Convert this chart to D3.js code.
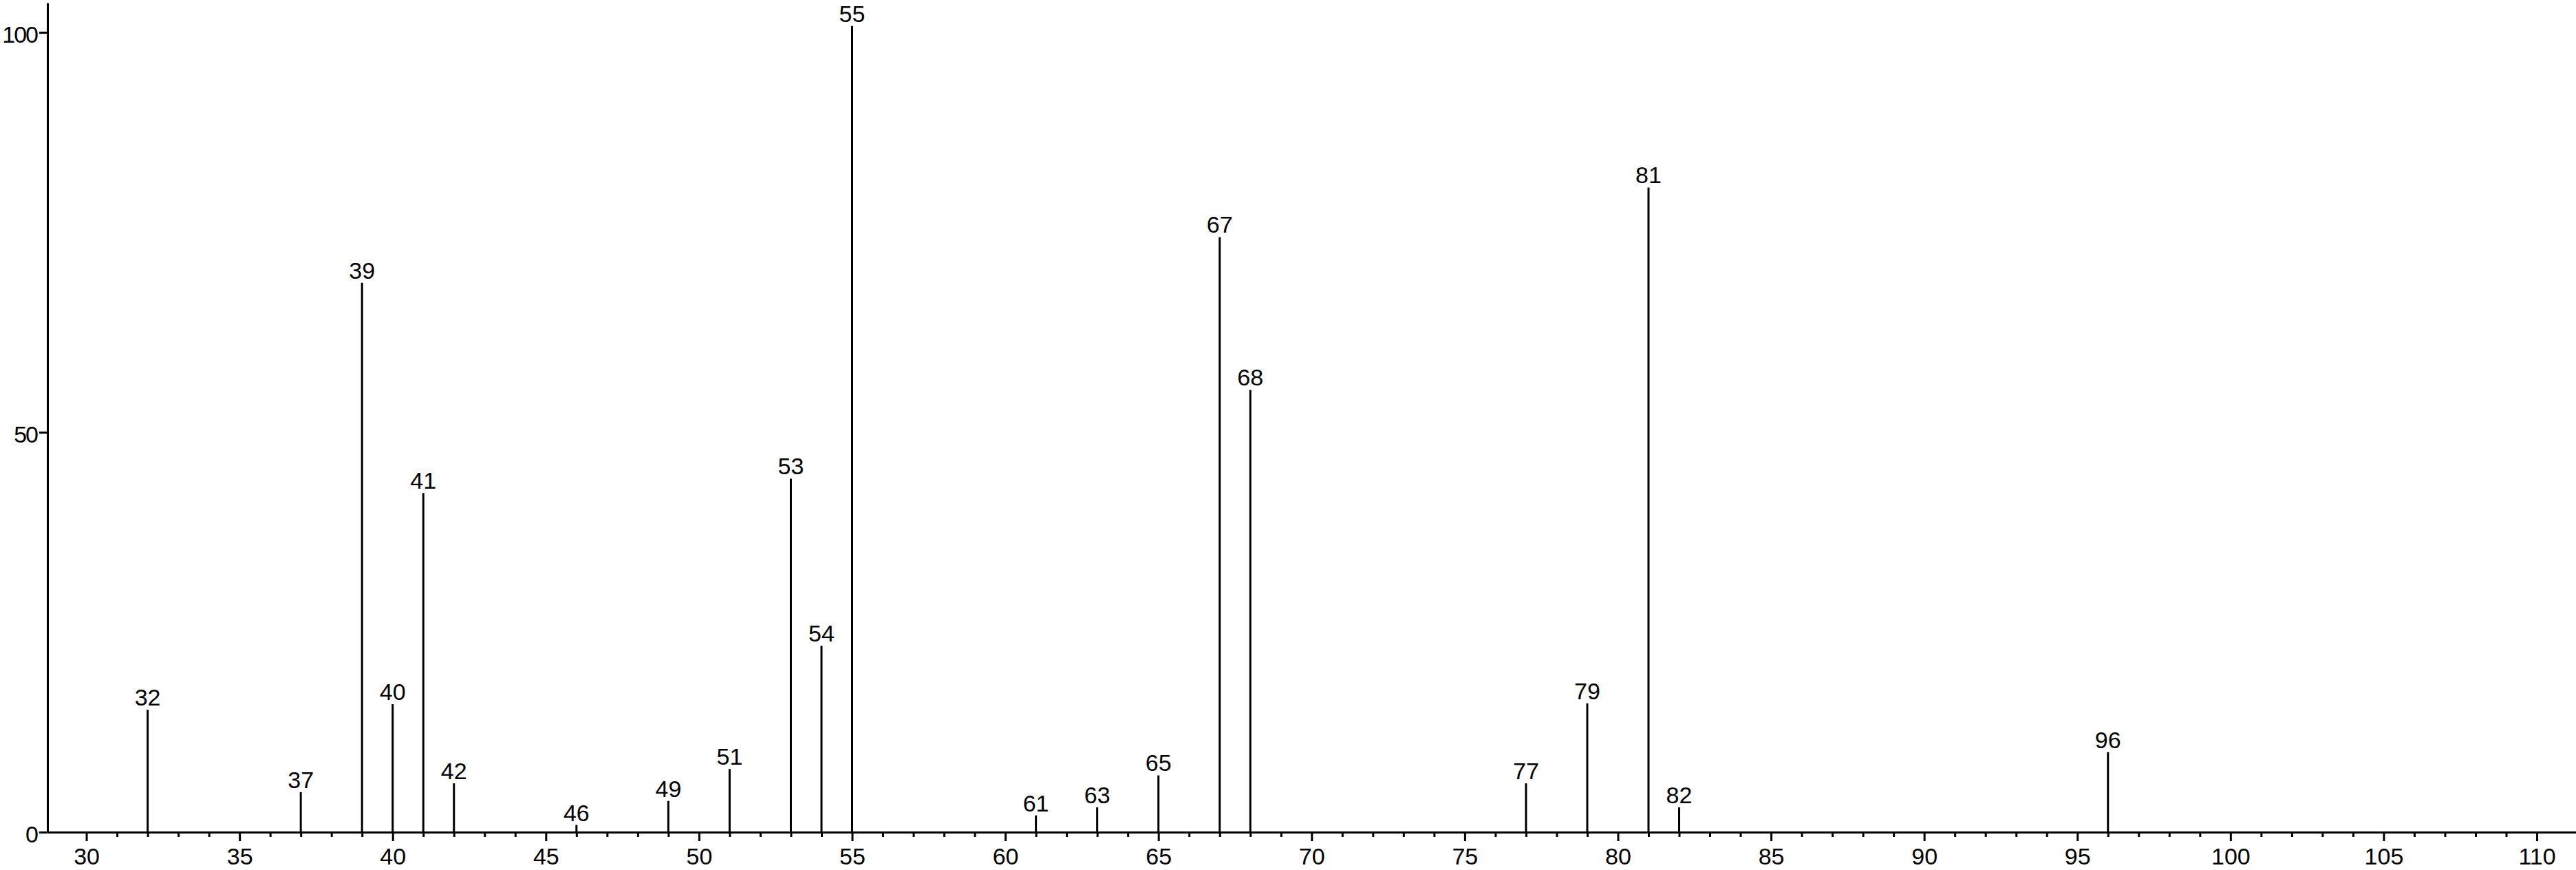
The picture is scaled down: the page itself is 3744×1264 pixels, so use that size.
<!DOCTYPE html>
<html>
<head>
<meta charset="utf-8">
<script src="https://cdn.jsdelivr.net/npm/d3@7"></script>
<style>
  html, body { margin: 0; padding: 0; background: #fff; }
  svg { display: block; }
  text { font-family: "Liberation Sans", Arial, Helvetica, sans-serif; fill: #000; }
</style>
</head>
<body>
<svg id="chart" width="3744" height="1264"></svg>
<script>
// m/z of each peak
const masses = [32, 37, 39, 40, 41, 42, 46, 49, 51, 53, 54, 55, 61, 63, 65, 67, 68, 77, 79, 81, 82, 96];
// relative intensity of each peak
const intensities = [15.3, 5.0, 68.7, 16.0, 42.4, 6.1, 0.9, 3.9, 7.9, 44.2, 23.3, 100.8, 2.1, 3.1, 7.1, 74.4, 55.3, 6.1, 16.1, 80.6, 3.1, 10.0];
// axis ticks
const xMajorTicks = [30, 35, 40, 45, 50, 55, 60, 65, 70, 75, 80, 85, 90, 95, 100, 105, 110];
const xMinorTicks = d3.range(30, 111, 1).filter(v => v % 5 !== 0);
const yTicks = [0, 50, 100];

const mLeft = 69, mRight = 3744, mBottom = 1209, mTop = 4;

const svg = d3.select("#chart");

const x = d3.scaleLinear().domain([28.73, 111.28]).range([mLeft, mRight]);
const y = d3.scaleLinear().domain([0, 103.7]).range([mBottom, mTop]);

const FS = 34;

// minor x ticks
const xMinor = svg.append("g")
  .attr("transform", `translate(0,${mBottom})`)
  .call(d3.axisBottom(x).tickValues(xMinorTicks).tickSize(7).tickSizeOuter(0).tickFormat(""));
xMinor.select(".domain").remove();
xMinor.selectAll(".tick line").attr("stroke", "#000").attr("stroke-width", 3);

// major x ticks + domain
const xMajor = svg.append("g")
  .attr("transform", `translate(0,${mBottom})`)
  .call(d3.axisBottom(x).tickValues(xMajorTicks).tickSize(13).tickSizeOuter(0).tickPadding(10).tickFormat(d3.format("d")));
xMajor.select(".domain").attr("stroke", "#000").attr("stroke-width", 3);
xMajor.selectAll(".tick line").attr("stroke", "#000").attr("stroke-width", 3);
xMajor.selectAll(".tick text").style("font-size", FS + "px").attr("fill", "#000");

// y axis
const yAx = svg.append("g")
  .attr("transform", `translate(${mLeft},0)`)
  .call(d3.axisLeft(y).tickValues(yTicks).tickSize(12).tickSizeOuter(0).tickPadding(3).tickFormat(d3.format("d")));
yAx.select(".domain").attr("stroke", "#000").attr("stroke-width", 3);
yAx.selectAll(".tick line").attr("stroke", "#000").attr("stroke-width", 3);
yAx.selectAll(".tick text")
  .style("font-size", FS + "px")
  .style("letter-spacing", "-2px")
  .attr("fill", "#000")
  .attr("dy", "0.42em");

const peaks = masses.map((m, i) => ({ m, v: intensities[i] }));

// peak sticks
svg.append("g").selectAll("line")
  .data(peaks)
  .join("line")
  .attr("x1", d => x(d.m))
  .attr("x2", d => x(d.m))
  .attr("y1", y(0))
  .attr("y2", d => y(d.v))
  .attr("stroke", "#000")
  .attr("stroke-width", 3);

// peak labels
svg.append("g").selectAll("text")
  .data(peaks)
  .join("text")
  .attr("x", d => x(d.m))
  .attr("y", d => y(d.v) - 6)
  .attr("text-anchor", "middle")
  .style("font-size", FS + "px")
  .text(d => d.m);
</script>
</body>
</html>
